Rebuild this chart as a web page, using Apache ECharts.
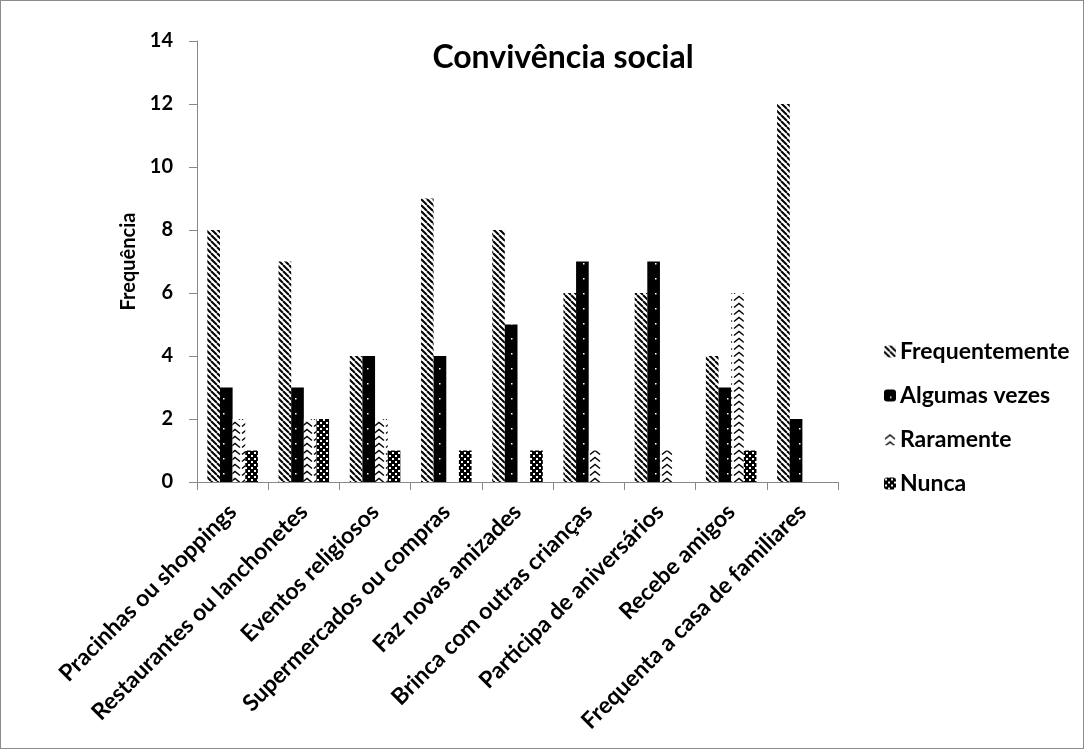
<!DOCTYPE html>
<html>
<head>
<meta charset="utf-8">
<script src="https://cdn.jsdelivr.net/npm/echarts@6/dist/echarts.min.js"></script>
<style>
  html, body { margin: 0; padding: 0; background: #fff; }
  #chart { width: 1084px; height: 749px; box-sizing: border-box; border: 1px solid #8c8c8c; }
</style>
</head>
<body>
<div id="chart"></div>
<script>
var categories = ['Pracinhas ou shoppings', 'Restaurantes ou lanchonetes', 'Eventos religiosos',
  'Supermercados ou compras', 'Faz novas amizades', 'Brinca com outras crianças',
  'Participa de aniversários', 'Recebe amigos', 'Frequenta a casa de familiares'];
var frequentemente = [8, 7, 4, 9, 8, 6, 6, 4, 12];
var algumasVezes = [3, 3, 4, 4, 5, 7, 7, 3, 2];
var raramente = [2, 2, 2, 0, 0, 1, 1, 6, 0];
var nunca = [1, 2, 1, 1, 1, 0, 0, 1, 0];

// hatch patterns drawn on small canvases
function makeTile(w, h, draw) {
  var c = document.createElement('canvas');
  c.width = w; c.height = h;
  var ctx = c.getContext('2d');
  draw(ctx, w, h);
  return { image: c, repeat: 'repeat' };
}

var patStripes = makeTile(6, 6, function (ctx, w, h) {
  ctx.fillStyle = '#fff'; ctx.fillRect(0, 0, w, h);
  ctx.strokeStyle = '#000'; ctx.lineWidth = 2;
  for (var k = -1; k <= 1; k++) {
    ctx.beginPath();
    ctx.moveTo(k * w, 0);
    ctx.lineTo(k * w + w, h);
    ctx.stroke();
  }
});

var patDots = makeTile(12, 15, function (ctx, w, h) {
  ctx.fillStyle = '#000'; ctx.fillRect(0, 0, w, h);
  ctx.fillStyle = '#fff'; ctx.fillRect(6, 7, 1.5, 1.5);
});

var patChevron = makeTile(12, 7, function (ctx, w, h) {
  ctx.fillStyle = '#fff'; ctx.fillRect(0, 0, w, h);
  ctx.strokeStyle = '#000'; ctx.lineWidth = 1.4;
  ctx.beginPath();
  ctx.moveTo(1, 5.5); ctx.lineTo(6, 1.5); ctx.lineTo(11, 5.5);
  ctx.stroke();
});

var patWeave = makeTile(6, 6, function (ctx, w, h) {
  ctx.fillStyle = '#000'; ctx.fillRect(0, 0, w, h);
  ctx.fillStyle = '#fff';
  ctx.fillRect(1, 1, 2, 2);
  ctx.fillRect(4, 4, 2, 2);
});

var chart = echarts.init(document.getElementById('chart'));

function barSeries(name, data, pat) {
  return {
    name: name,
    type: 'bar',
    data: data,
    barGap: '0%',
    barCategoryGap: '29%',
    itemStyle: { color: pat }
  };
}

chart.setOption({
  animation: false,
  backgroundColor: '#fff',
  title: {
    text: 'Convivência social',
    left: 557,
    top: 36,
    textAlign: 'center',
    textStyle: { fontFamily: 'Lato', fontWeight: 'bold', fontSize: 32, color: '#000' }
  },
  legend: {
    orient: 'vertical',
    left: 878,
    top: 334,
    itemWidth: 12,
    itemHeight: 12,
    itemGap: 21,
    textStyle: { fontFamily: 'Lato', fontWeight: 'bold', fontSize: 23, color: '#000', padding: [0, 0, 0, -1] },
    data: ['Frequentemente', 'Algumas vezes', 'Raramente', 'Nunca']
  },
  grid: { left: 196, right: 245, top: 40, bottom: 266, containLabel: false },
  xAxis: {
    type: 'category',
    data: categories,
    axisLine: { lineStyle: { color: '#888' } },
    axisTick: { show: true, alignWithLabel: false, length: 8, lineStyle: { color: '#888' } },
    axisLabel: {
      interval: 0,
      rotate: 45,
      margin: 26,
      fontSize: 23,
      fontFamily: 'Lato',
      fontWeight: 'bold',
      color: '#000'
    }
  },
  yAxis: {
    type: 'value',
    min: 0,
    max: 14,
    interval: 2,
    name: 'Frequência',
    nameLocation: 'middle',
    nameGap: 56,
    nameTextStyle: { fontFamily: 'Lato', fontWeight: 'bold', fontSize: 20, color: '#000' },
    splitLine: { show: false },
    axisLine: { show: true, lineStyle: { color: '#888' } },
    axisTick: { show: true, length: 8, lineStyle: { color: '#888' } },
    axisLabel: { fontSize: 20, margin: 24, fontFamily: 'Lato', fontWeight: 'bold', color: '#000' }
  },
  series: [
    barSeries('Frequentemente', frequentemente, patStripes),
    barSeries('Algumas vezes', algumasVezes, patDots),
    barSeries('Raramente', raramente, patChevron),
    barSeries('Nunca', nunca, patWeave)
  ]
});
</script>
</body>
</html>
